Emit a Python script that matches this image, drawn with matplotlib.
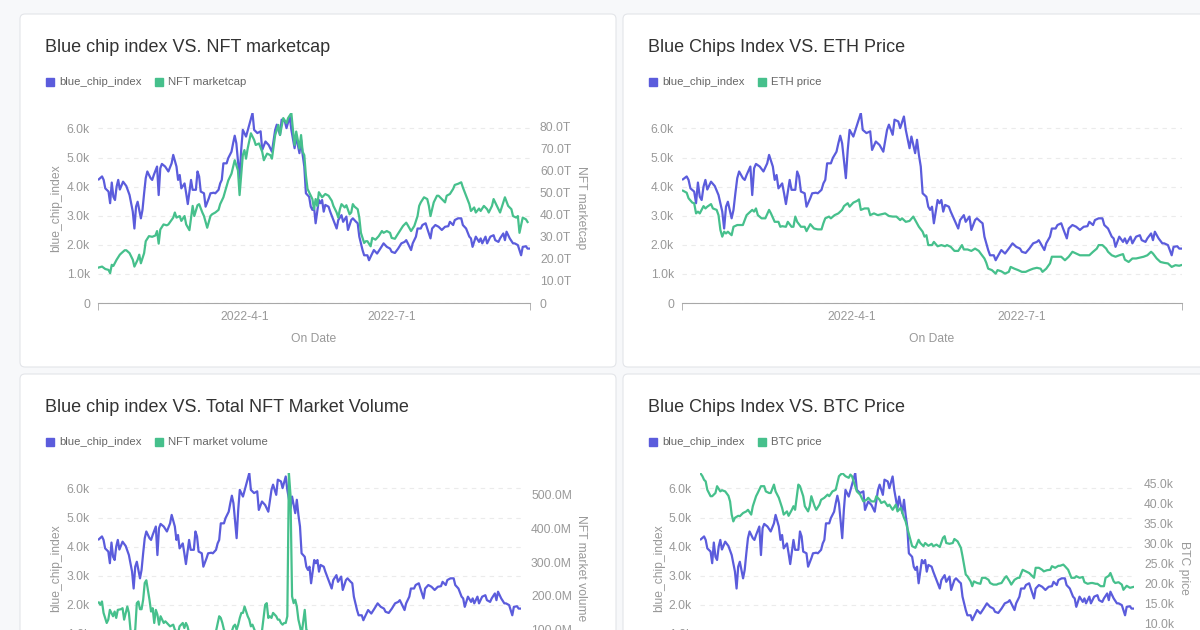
import matplotlib
matplotlib.use('Agg')
import matplotlib.pyplot as plt
import matplotlib.dates as mdates
from matplotlib.patches import FancyBboxPatch, Rectangle
from matplotlib.ticker import FuncFormatter
import numpy as np

plt.rcParams['font.family'] = ['Liberation Sans', 'DejaVu Sans']

START = np.datetime64('2022-01-01')

# days since 2022-01-01
blue_day = [0, 2, 3, 4, 6, 7, 8, 9, 10, 11, 12, 13, 15, 17, 19, 21, 22, 23, 24, 26,
            27, 28, 29, 30, 32, 33, 34, 36, 37, 38, 39, 41, 43, 45, 46, 48, 49, 50, 51, 53,
            54, 55, 57, 58, 60, 61, 62, 63, 65, 66, 68, 69, 71, 72, 74, 75, 76, 77, 79, 80,
            82, 83, 84, 85, 87, 88, 89, 91, 93, 95, 96, 98, 100, 101, 103, 105, 107, 109, 110, 112,
            113, 115, 116, 118, 119, 121, 122, 124, 125, 126, 127, 128, 130, 131, 132, 133, 134, 136, 137, 138,
            139, 140, 142, 143, 145, 147, 148, 150, 151, 153, 154, 156, 157, 159, 160, 161, 163, 164, 166, 167,
            168, 170, 171, 172, 174, 176, 178, 180, 181, 183, 185, 187, 189, 190, 191, 193, 194, 196, 197, 199,
            200, 202, 203, 205, 206, 208, 210, 212, 214, 216, 217, 219, 220, 222, 224, 225, 227, 229, 230, 231,
            233, 235, 236, 237, 239, 240, 242, 244, 245, 247, 248, 250, 251, 252, 254, 256, 257, 259, 261, 262,
            264, 265, 266]
blue_chip_index = [4250, 4350, 4230, 3940, 3830, 3430, 4140, 3650, 3540, 4000,
                   4230, 3900, 4170, 4020, 3710, 3140, 2560, 3310, 3480, 2910,
                   3200, 3770, 4290, 4520, 4290, 4230, 4400, 4690, 3710, 4630,
                   4780, 4690, 4520, 4800, 5090, 4690, 4230, 4400, 3940, 4110,
                   3770, 3400, 4230, 3890, 3890, 4520, 4350, 3830, 3770, 3310,
                   3600, 3770, 3790, 3770, 3890, 4110, 4230, 4800, 4800, 4980,
                   5200, 5490, 5750, 5490, 4290, 5260, 5950, 5720, 6130, 6530,
                   5950, 5840, 5900, 5260, 5550, 5430, 5200, 5950, 6130, 5780,
                   6300, 6240, 6010, 6410, 5950, 5320, 5720, 5150, 5610, 5090,
                   4690, 3770, 3650, 3310, 3200, 3310, 2740, 3540, 3430, 3540,
                   3140, 3370, 3310, 3140, 2850, 2560, 2850, 3020, 2790, 2970,
                   2510, 2850, 2910, 2790, 2740, 2280, 1820, 1640, 1640, 1470,
                   1590, 1820, 1760, 1700, 1870, 2050, 1930, 1870, 1760, 1720,
                   1870, 2050, 2100, 2160, 2050, 1820, 2050, 2280, 2560, 2560,
                   2680, 2740, 2560, 2220, 2560, 2680, 2620, 2510, 2620, 2640,
                   2790, 2680, 2850, 2910, 2910, 2680, 2560, 2280, 2220, 1930,
                   2280, 2100, 2220, 2050, 2280, 2050, 2280, 2330, 2160, 2100,
                   2220, 2390, 2160, 2450, 2220, 2050, 2050, 1990, 1640, 1930,
                   1950, 1870, 1870]

mcap_day = [0, 2, 4, 6, 7, 8, 9, 11, 13, 14, 16, 17, 19, 21, 22, 24, 25, 26, 28, 29,
            31, 33, 35, 36, 37, 38, 40, 42, 43, 46, 47, 48, 50, 51, 53, 54, 56, 58, 59, 61,
            62, 64, 65, 67, 69, 70, 72, 74, 75, 77, 79, 80, 82, 84, 86, 87, 89, 90, 91, 92,
            94, 96, 97, 99, 101, 102, 104, 106, 107, 109, 111, 112, 114, 116, 117, 119, 120, 121, 122, 124,
            125, 126, 127, 128, 129, 131, 132, 133, 134, 135, 136, 138, 140, 142, 144, 145, 147, 148, 149, 150,
            152, 153, 155, 156, 157, 158, 160, 161, 162, 164, 165, 166, 168, 169, 171, 173, 175, 176, 178, 180,
            181, 183, 184, 186, 188, 190, 191, 193, 195, 197, 198, 199, 201, 203, 204, 205, 207, 209, 210, 212,
            214, 215, 217, 219, 220, 222, 224, 225, 227, 229, 230, 232, 233, 235, 236, 238, 240, 241, 243, 244,
            246, 248, 249, 251, 253, 255, 256, 258, 259, 260, 262, 264, 265]
nft_marketcap_t = [16.1, 16.5, 15.4, 15.0, 13.5, 17.3, 16.8, 19.6, 21.9, 22.6,
                   23.9, 23.9, 22.6, 19.6, 16.5, 19.6, 21.9, 18.0, 22.6, 28.0,
                   30.3, 30.0, 30.6, 32.6, 26.9, 33.3, 35.6, 35.2, 35.6, 38.7,
                   41.0, 38.7, 39.4, 37.2, 39.4, 35.6, 33.0, 44.0, 39.4, 44.3,
                   44.8, 41.0, 39.4, 34.1, 39.4, 40.2, 41.0, 42.2, 44.8, 47.9,
                   52.9, 55.5, 58.6, 64.7, 60.1, 48.9, 67.0, 69.3, 65.4, 70.0,
                   76.9, 73.9, 71.6, 72.3, 68.5, 64.7, 67.7, 67.0, 65.4, 76.1,
                   80.7, 76.1, 83.8, 81.5, 83.8, 86.1, 78.4, 71.6, 77.7, 70.0,
                   76.1, 68.5, 67.0, 57.8, 51.7, 48.6, 47.1, 42.5, 47.1, 44.0,
                   50.2, 47.9, 49.4, 48.6, 46.3, 44.0, 41.0, 38.7, 42.5, 44.8,
                   43.3, 44.3, 40.2, 41.0, 44.8, 43.7, 42.5, 38.7, 31.8, 27.2,
                   28.0, 28.0, 25.7, 29.5, 28.7, 30.3, 32.6, 31.8, 32.6, 31.8,
                   29.5, 29.1, 30.3, 32.6, 34.9, 36.4, 35.2, 32.6, 34.9, 39.4,
                   44.0, 45.6, 47.9, 47.1, 44.0, 39.4, 45.6, 48.6, 48.6, 47.1,
                   45.6, 48.6, 49.4, 51.7, 53.5, 54.0, 54.7, 52.4, 48.6, 44.8,
                   41.7, 43.3, 41.0, 42.8, 41.7, 44.0, 42.5, 41.0, 44.0, 47.1,
                   44.0, 41.0, 43.3, 47.9, 44.0, 42.5, 39.4, 38.7, 39.4, 31.8,
                   38.7, 37.9, 36.7]

eth_day = [0, 2, 3, 5, 6, 7, 8, 9, 11, 12, 13, 15, 16, 18, 19, 20, 21, 22, 23, 24,
           26, 27, 29, 31, 32, 34, 35, 37, 38, 39, 40, 42, 44, 46, 47, 49, 51, 52, 53, 55,
           56, 58, 59, 60, 61, 63, 65, 66, 68, 70, 72, 74, 75, 76, 78, 79, 81, 83, 85, 86,
           88, 89, 91, 93, 94, 95, 97, 99, 100, 102, 104, 106, 108, 110, 112, 114, 116, 117, 119, 121,
           123, 125, 126, 128, 129, 130, 131, 133, 134, 136, 138, 140, 141, 143, 145, 147, 149, 150, 152, 154,
           156, 158, 159, 161, 162, 163, 165, 167, 168, 170, 172, 174, 175, 177, 179, 181, 183, 185, 187, 189,
           191, 192, 194, 196, 197, 199, 201, 202, 204, 206, 208, 210, 212, 214, 217, 219, 221, 222, 224, 226,
           227, 229, 231, 233, 235, 236, 238, 240, 242, 244, 246, 248, 250, 251, 253, 255, 257, 259, 261, 263,
           265, 266]
eth_price = [3860, 3790, 3600, 3450, 3430, 3080, 3140, 3080, 3330, 3250,
             3310, 3400, 3250, 3200, 3020, 2510, 2280, 2450, 2390, 2450,
             2330, 2620, 2680, 2680, 2680, 3020, 3080, 3200, 3140, 3250,
             3020, 2910, 2910, 3200, 3080, 2790, 2790, 2620, 2640, 2620,
             2790, 2620, 2620, 2970, 2790, 2620, 2620, 2470, 2710, 2560,
             2530, 2530, 2740, 2910, 2970, 2910, 3020, 3080, 3200, 3330,
             3430, 3310, 3450, 3510, 3560, 3200, 3250, 3250, 3020, 3080,
             3020, 3050, 3080, 2990, 2970, 2970, 2850, 2910, 2790, 2820,
             2970, 2740, 2620, 2450, 2280, 2330, 1990, 1990, 2100, 1950,
             1990, 1950, 1990, 1930, 1790, 1790, 1990, 1840, 1840, 1790,
             1870, 1790, 1700, 1530, 1380, 1180, 1130, 1010, 1130, 1090,
             1010, 1070, 1240, 1180, 1130, 1070, 1070, 1130, 1180, 1210,
             1180, 1070, 1180, 1360, 1590, 1590, 1590, 1590, 1470, 1590,
             1760, 1700, 1640, 1640, 1640, 1760, 1870, 1990, 1990, 1870,
             1760, 1640, 1590, 1640, 1680, 1490, 1410, 1530, 1530, 1560,
             1590, 1640, 1760, 1700, 1530, 1410, 1380, 1360, 1240, 1300,
             1280, 1300]

vol_day = [0, 1, 2, 3, 5, 6, 7, 9, 10, 11, 12, 14, 15, 16, 18, 19, 20, 21, 23, 24,
           25, 26, 27, 28, 29, 30, 32, 33, 34, 35, 36, 37, 38, 39, 41, 42, 44, 45, 47, 48,
           50, 51, 53, 54, 55, 56, 57, 60, 63, 66, 69, 72, 74, 76, 77, 78, 79, 81, 83, 85,
           86, 87, 88, 89, 90, 91, 92, 94, 95, 96, 97, 99, 101, 103, 105, 106, 107, 108, 109, 110,
           112, 113, 114, 115, 116, 117, 118, 119, 120, 121, 122, 123, 124, 125, 126, 127, 128, 130, 131, 135,
           140, 150, 160, 170, 180, 190, 200, 210, 220, 230, 240, 250, 260, 266]
nft_volume_m = [180, 173, 183, 149, 119, 129, 158, 139, 153, 134,
                158, 160, 163, 129, 168, 149, 99, 85, 99, 178,
                183, 160, 160, 188, 238, 246, 188, 153, 163, 119,
                158, 144, 114, 139, 119, 124, 114, 109, 114, 99,
                89, 109, 119, 104, 119, 109, 89, 80, 85, 78,
                88, 82, 95, 139, 134, 119, 99, 85, 80, 109,
                114, 99, 114, 134, 149, 149, 168, 139, 129, 109,
                114, 90, 85, 95, 173, 178, 134, 139, 134, 149,
                139, 129, 129, 119, 114, 119, 119, 139, 565, 500,
                198, 178, 188, 168, 129, 109, 85, 158, 99, 80,
                75, 70, 65, 60, 55, 60, 55, 50, 55, 50,
                45, 50, 45, 45]

btc_day = [0, 1, 2, 3, 4, 6, 7, 9, 10, 12, 13, 15, 17, 18, 19, 20, 21, 23, 24, 26,
           28, 29, 31, 32, 34, 35, 37, 39, 40, 42, 43, 45, 46, 48, 50, 51, 53, 54, 56, 57,
           58, 60, 61, 63, 64, 66, 67, 68, 70, 71, 73, 74, 76, 78, 79, 81, 83, 84, 85, 87,
           89, 91, 92, 93, 95, 96, 98, 100, 102, 103, 105, 107, 108, 110, 111, 113, 115, 116, 118, 120,
           121, 123, 125, 126, 127, 129, 130, 132, 134, 135, 137, 138, 140, 142, 143, 145, 147, 149, 150, 151,
           153, 155, 156, 158, 160, 161, 163, 164, 166, 167, 168, 170, 172, 173, 175, 177, 178, 180, 182, 183,
           185, 187, 188, 190, 191, 193, 195, 196, 198, 200, 202, 203, 205, 206, 208, 210, 211, 213, 215, 216,
           218, 220, 221, 223, 224, 226, 228, 230, 231, 233, 235, 236, 238, 240, 241, 243, 244, 246, 248, 249,
           251, 252, 254, 255, 257, 259, 260, 262, 264, 266]
btc_price_k = [47.3, 46.7, 45.8, 45.4, 43.3, 41.7, 41.7, 42.5, 44.2, 42.9,
               43.2, 42.9, 41.8, 40.4, 37.1, 35.4, 36.3, 36.8, 36.7, 37.5,
               37.9, 38.3, 37.1, 39.2, 41.7, 42.5, 44.2, 44.2, 42.9, 42.5,
               42.5, 44.6, 42.9, 41.3, 38.8, 37.1, 37.9, 36.8, 38.3, 39.2,
               38.3, 44.6, 44.2, 41.7, 39.2, 37.9, 39.2, 41.7, 39.2, 38.3,
               39.6, 40.8, 41.3, 42.1, 41.7, 42.9, 43.3, 45.0, 46.7, 47.5,
               46.7, 46.3, 47.1, 46.7, 44.2, 42.9, 42.1, 40.4, 40.8, 41.3,
               40.4, 40.4, 41.7, 40.8, 40.0, 40.4, 39.2, 39.6, 38.3, 39.6,
               37.9, 38.8, 36.3, 35.4, 33.8, 30.8, 29.2, 28.8, 30.8, 30.0,
               29.2, 30.0, 29.3, 29.8, 29.2, 29.6, 29.0, 31.3, 31.7, 30.0,
               29.8, 30.0, 31.0, 30.4, 28.8, 26.7, 22.1, 21.7, 20.4, 19.2,
               20.4, 20.0, 19.8, 21.3, 21.3, 20.8, 20.0, 19.6, 19.6, 19.8,
               20.0, 21.3, 21.7, 20.4, 19.6, 20.8, 21.3, 21.3, 23.3, 22.9,
               22.5, 22.1, 21.3, 23.8, 23.8, 23.3, 22.9, 23.2, 23.3, 24.2,
               23.8, 24.3, 24.3, 24.6, 24.2, 23.3, 21.3, 21.3, 21.7, 21.3,
               21.5, 20.2, 19.8, 20.0, 20.0, 19.8, 19.8, 19.2, 19.2, 21.3,
               21.8, 22.5, 20.4, 20.0, 20.2, 19.6, 18.3, 19.3, 18.8, 19.0]

BLUE = '#5b5cdc'
GREEN = '#46c08c'
TICK = '#999999'
W, H = 1200, 630

fig = plt.figure(figsize=(12, 6.3), dpi=100)
fig.patch.set_facecolor('#f7f8fa')


def dates(days):
    return START + np.array(days).astype('timedelta64[D]')


def card(l, t, r, b):
    fig.add_artist(FancyBboxPatch((l / 100, (H - b) / 100), (r - l) / 100, (b - t) / 100,
                                  boxstyle='round,pad=0,rounding_size=0.05',
                                  transform=fig.dpi_scale_trans, facecolor='white',
                                  edgecolor='#e3e5e9', linewidth=0.8, zorder=-5))


def header(x, y, title, items):
    fig.text(x / W, 1 - y / H, title, fontsize=13, color='#333333', va='center')
    for sx, color, label in items:
        fig.add_artist(Rectangle((sx / 100, (H - y - 35 - 4) / 100), 0.08, 0.08,
                                 transform=fig.dpi_scale_trans, color=color))
        fig.text((sx + 13) / W, 1 - (y + 35) / H, label, fontsize=8.2, color='#666666', va='center')


def panel(l, t, r, b, left_label_x=None, show_x=True):
    ax = fig.add_axes([l / W, (H - b) / H, (r - l) / W, (b - t) / H])
    ax.set_facecolor('none')
    for s in ['top', 'right', 'left']:
        ax.spines[s].set_visible(False)
    ax.spines['bottom'].set_color('#a8a8a8')
    lo = mdates.date2num(START) - 0.5
    hi = mdates.date2num(START) + max(blue_day) + 0.5
    ax.set_xlim(lo, hi)
    if show_x:
        ax.set_xticks(mdates.date2num(np.array(['2022-04-01', '2022-07-01'], dtype='datetime64[D]')))
        ax.set_xticklabels(['2022-4-1', '2022-7-1'])
        ax.set_xlabel('On Date', fontsize=8.7, color=TICK)
        ax.xaxis.set_label_coords(0.5, -30 / (b - t))
    else:
        ax.set_xticks([])
    ax.set_xticks([lo, hi], minor=True)
    ax.tick_params(axis='x', which='major', length=0, pad=6, labelsize=8.7, labelcolor=TICK)
    ax.tick_params(axis='x', which='minor', length=5, color='#a8a8a8')
    ax.set_yticks(np.arange(0, 6001, 1000))
    ax.yaxis.set_major_formatter(FuncFormatter(lambda v, p: '0' if v == 0 else f'{v / 1000:.1f}k'))
    ax.tick_params(axis='y', length=0, pad=5.8, labelsize=8.7, labelcolor=TICK)
    ax.yaxis.grid(True, color='#ebebeb', linestyle=(0, (4, 4)), linewidth=0.8)
    ax.set_axisbelow(True)
    if left_label_x is not None:
        ax.set_ylabel('blue_chip_index', fontsize=8.7, color=TICK)
        ax.yaxis.set_label_coords((left_label_x - l) / (r - l), 0.5)
    ax.plot(dates(blue_day), blue_chip_index, color=BLUE, lw=1.6)
    return ax


def right_axis(ax, l, r, label, ticks, fmt, top, label_x):
    ax2 = ax.twinx()
    for s in ax2.spines.values():
        s.set_visible(False)
    ax2.set_ylim(0, top)
    ax2.set_yticks(ticks)
    ax2.yaxis.set_major_formatter(FuncFormatter(fmt))
    ax2.tick_params(axis='y', length=0, pad=7.2, labelsize=8.7, labelcolor=TICK)
    ax2.set_ylabel(label, fontsize=8.7, color=TICK, rotation=270, va='center')
    ax2.yaxis.set_label_coords((label_x - l) / (r - l), 0.5)
    return ax2


card(20, 14, 616, 367)
card(623, 14, 1215, 367)
card(20, 374, 616, 720)
card(623, 374, 1215, 720)

# panel 1
header(45, 47, 'Blue chip index VS. NFT marketcap',
       [(46, BLUE, 'blue_chip_index'), (155, GREEN, 'NFT marketcap')])
ax1 = panel(98, 113, 530, 303, 62)
ax1.set_ylim(0, max(blue_chip_index))
r1 = right_axis(ax1, 98, 530, 'NFT marketcap', np.arange(0, 81, 10),
                lambda v, p: '0' if v == 0 else f'{v:.1f}T', max(nft_marketcap_t), 581)
r1.plot(dates(mcap_day), nft_marketcap_t, color=GREEN, lw=1.6)

# panel 2
header(648, 47, 'Blue Chips Index VS. ETH Price',
       [(649, BLUE, 'blue_chip_index'), (758, GREEN, 'ETH price')])
ax2 = panel(682, 113, 1182, 303)
ax2.plot(dates(eth_day), eth_price, color=GREEN, lw=1.6)
ax2.set_ylim(0, max(blue_chip_index + eth_price))

# panel 3 (lower part falls below the picture)
header(45, 407, 'Blue chip index VS. Total NFT Market Volume',
       [(46, BLUE, 'blue_chip_index'), (155, GREEN, 'NFT market volume')])
ax3 = panel(98, 473, 521, 663, 62, show_x=False)
ax3.set_ylim(0, max(blue_chip_index))
r3 = right_axis(ax3, 98, 521, 'NFT market volume', np.arange(0, 501, 100),
                lambda v, p: '0' if v == 0 else f'{v:.1f}M', max(nft_volume_m), 581)
r3.plot(dates(vol_day), nft_volume_m, color=GREEN, lw=1.6)

# panel 4
header(648, 407, 'Blue Chips Index VS. BTC Price',
       [(649, BLUE, 'blue_chip_index'), (758, GREEN, 'BTC price')])
ax4 = panel(700, 473, 1134, 663, 665, show_x=False)
ax4.set_ylim(0, max(blue_chip_index))
r4 = right_axis(ax4, 700, 1134, 'BTC price', np.arange(0, 46, 5),
                lambda v, p: '0' if v == 0 else f'{v:.1f}k', max(btc_price_k), 1184)
r4.plot(dates(btc_day), btc_price_k, color=GREEN, lw=1.6)

fig.savefig('out.png', dpi=100, facecolor=fig.get_facecolor())
